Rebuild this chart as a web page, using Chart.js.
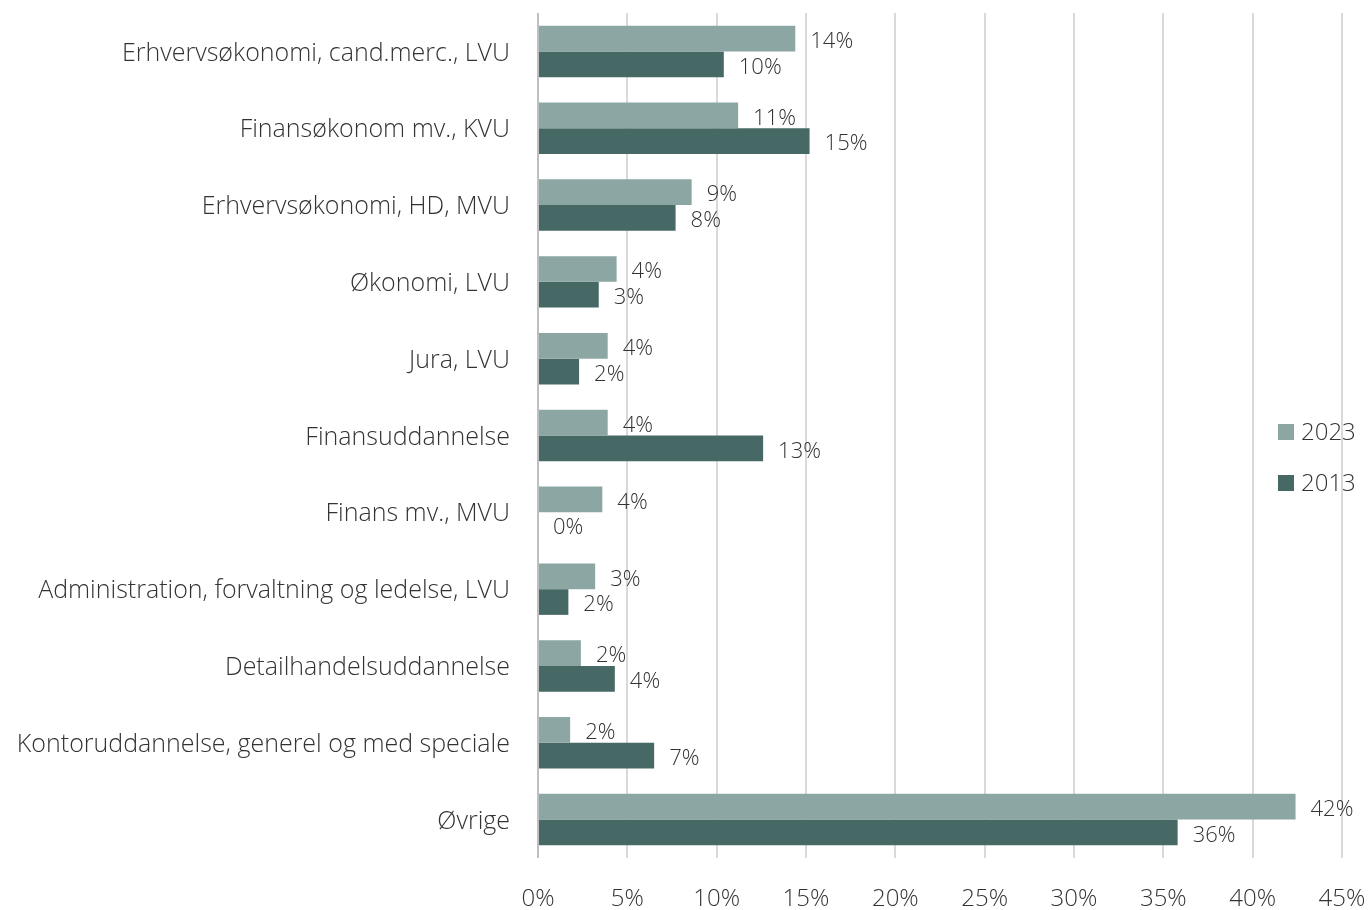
<!DOCTYPE html>
<html>
<head>
<meta charset="utf-8">
<script src="https://cdn.jsdelivr.net/npm/chart.js@4"></script>
<style>
  html, body { margin: 0; padding: 0; background: #fff; }
  #wrap { width: 1369px; height: 910px; }
</style>
</head>
<body>
<div id="wrap"><canvas id="chart" width="1369" height="910"></canvas></div>
<script>
// kategorier (y-aksen)
const categories = [
    'Erhvervsøkonomi, cand.merc., LVU',
    'Finansøkonom mv., KVU',
    'Erhvervsøkonomi, HD, MVU',
    'Økonomi, LVU',
    'Jura, LVU',
    'Finansuddannelse',
    'Finans mv., MVU',
    'Administration, forvaltning og ledelse, LVU',
    'Detailhandelsuddannelse',
    'Kontoruddannelse, generel og med speciale',
    'Øvrige'
];

// andele i procent
const values2023 = [14.4, 11.2, 8.6, 4.4, 3.9, 3.9, 3.6, 3.2, 2.4, 1.8, 42.4];
const values2013 = [10.4, 15.2, 7.7, 3.4, 2.3, 12.6, 0, 1.7, 4.3, 6.5, 35.8];

// x-aksens tick-labels
const tickValues = [0, 5, 10, 15, 20, 25, 30, 35, 40, 45];

const FONT = '"Open Sans", "Noto Sans", sans-serif';
const TEXT = '#333333';

// procent-labels ved enden af hver søjle
const barLabels = {
    id: 'barLabels',
    afterDatasetsDraw(chart) {
        const ctx = chart.ctx;
        ctx.save();
        ctx.font = '300 22px ' + FONT;
        ctx.fillStyle = TEXT;
        ctx.textAlign = 'left';
        ctx.textBaseline = 'middle';
        chart.data.datasets.forEach((ds, i) => {
            chart.getDatasetMeta(i).data.forEach((bar, j) => {
                ctx.fillText(Math.round(ds.data[j]) + '%', bar.x + 15, bar.y + 3);
            });
        });
        ctx.restore();
    }
};

// forklaring til højre, oven i plotområdet
const sideLegend = {
    id: 'sideLegend',
    afterDraw(chart) {
        const ctx = chart.ctx;
        ctx.save();
        ctx.font = '300 24px ' + FONT;
        ctx.textAlign = 'left';
        ctx.textBaseline = 'middle';
        chart.data.datasets.forEach((ds, i) => {
            const y = 432 + i * 51;
            ctx.fillStyle = ds.backgroundColor;
            ctx.fillRect(1278, y - 8, 16, 16);
            ctx.fillStyle = TEXT;
            ctx.fillText(ds.label, 1301, y + 1);
        });
        ctx.restore();
    }
};

new Chart(document.getElementById('chart'), {
    type: 'bar',
    data: {
        labels: categories,
        datasets: [
            { label: '2023', data: values2023, backgroundColor: '#8ba6a3' },
            { label: '2013', data: values2013, backgroundColor: '#466966' }
        ]
    },
    options: {
        indexAxis: 'y',
        responsive: false,
        animation: false,
        layout: { padding: { top: 13, right: 27, left: 0, bottom: 0 } },
        categoryPercentage: 0.67,
        barPercentage: 1.0,
        plugins: {
            legend: { display: false },
            tooltip: { enabled: false }
        },
        scales: {
            x: {
                min: 0,
                max: 45,
                afterBuildTicks: s => { s.ticks = tickValues.map(v => ({ value: v })); },
                afterFit: s => { s.height = 52; s.paddingLeft = 0; s.paddingRight = 0; },
                ticks: {
                    callback: v => v + '%',
                    color: TEXT,
                    font: { family: FONT, size: 24, weight: 300 },
                    padding: 27,
                    maxRotation: 0
                },
                grid: {
                    drawTicks: false,
                    lineWidth: 2,
                    color: c => c.index === 0 ? '#bfbfbf' : '#d9d9d9'
                },
                border: { display: false }
            },
            y: {
                afterFit: s => { s.width = 538; s.paddingTop = 0; s.paddingBottom = 0; },
                ticks: {
                    color: TEXT,
                    font: { family: FONT, size: 25, weight: 300 },
                    padding: 28,
                    labelOffset: 2
                },
                grid: { display: false, drawTicks: false },
                border: { display: false }
            }
        }
    },
    plugins: [barLabels, sideLegend]
});
</script>
</body>
</html>
